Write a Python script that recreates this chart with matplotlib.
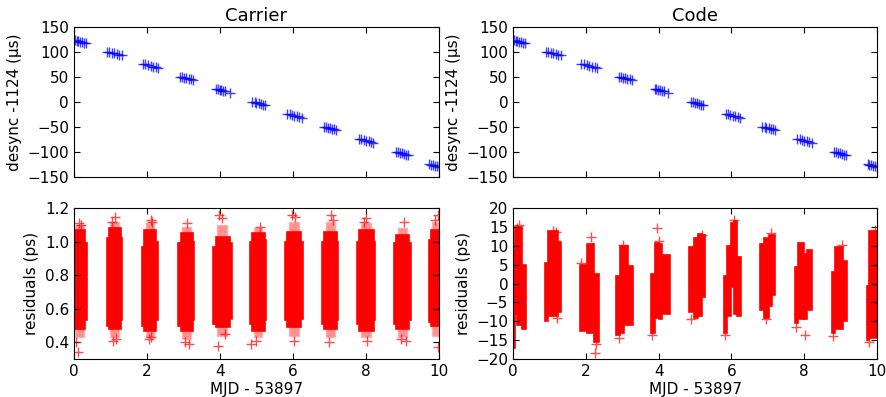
import matplotlib
matplotlib.use("Agg")
from matplotlib import pyplot as plt

# desync - 1124 (us), one group of points per day
desync_t = [0.02, 0.07, 0.12, 0.17, 0.22, 0.28, 0.33,
            0.91, 0.97, 1.04, 1.11, 1.18, 1.24, 1.31,
            1.88, 1.95, 2.02, 2.10, 2.17, 2.24, 2.31,
            2.90, 2.96, 3.02, 3.08, 3.14, 3.20, 3.27,
            3.89, 3.94, 3.99, 4.04, 4.09, 4.14, 4.27,
            4.89, 4.95, 5.00, 5.06, 5.12, 5.17, 5.23,
            5.84, 5.91, 5.97, 6.04, 6.11, 6.17, 6.24,
            6.85, 6.91, 6.96, 7.02, 7.08, 7.13, 7.19,
            7.81, 7.87, 7.94, 8.00, 8.07, 8.13, 8.20,
            8.81, 8.87, 8.92, 8.98, 9.04, 9.09, 9.15,
            9.74, 9.79, 9.84, 9.89, 9.94, 9.99]
desync_y = [123, 122, 121, 120, 119, 118, 117,
            100, 99, 98, 97, 95, 94, 93,
            76, 75, 73, 72, 70, 69, 67,
            50, 49, 48, 47, 46, 45, 44,
            26, 25, 24, 23, 22, 21, 18,
            0, -1, -2, -3, -5, -6, -7,
            -24, -25, -27, -28, -29, -31, -32,
            -50, -51, -52, -53, -54, -55, -56,
            -74, -75, -77, -78, -79, -81, -82,
            -99, -100, -101, -102, -104, -105, -106,
            -124, -125, -126, -127, -128, -129]

# carrier residuals (ps): dense blocks read as (start, end, low, high)
car_t0 = [0.00, 0.30, 0.90, 0.96, 1.28, 1.85, 1.92, 2.25, 2.86, 2.92, 3.25,
          3.82, 3.88, 4.27, 4.82, 4.88, 5.22, 5.78, 5.84, 6.23, 6.79, 6.85, 7.20,
          7.76, 7.82, 8.21, 8.77, 8.83, 9.18, 9.73, 9.78]
car_t1 = [0.30, 0.36, 0.96, 1.28, 1.32, 1.92, 2.25, 2.29, 2.92, 3.25, 3.30,
          3.88, 4.27, 4.32, 4.88, 5.22, 5.26, 5.84, 6.23, 6.27, 6.85, 7.20, 7.24,
          7.82, 8.21, 8.25, 8.83, 9.18, 9.22, 9.78, 10.0]
car_lo = [0.48, 0.53, 0.50, 0.48, 0.53, 0.50, 0.47, 0.53, 0.50, 0.47, 0.53,
          0.51, 0.49, 0.54, 0.51, 0.47, 0.53, 0.53, 0.49, 0.54, 0.51, 0.48, 0.53,
          0.51, 0.47, 0.53, 0.51, 0.48, 0.53, 0.52, 0.50]
car_hi = [1.07, 0.99, 1.02, 1.08, 1.02, 0.97, 1.07, 1.00, 0.99, 1.05, 1.00,
          0.97, 1.03, 0.99, 1.00, 1.05, 1.01, 1.00, 1.06, 1.00, 1.00, 1.06, 1.00,
          1.00, 1.07, 1.00, 0.99, 1.04, 0.99, 1.01, 1.07]
# sparser outer spread of the carrier blocks
carf_t0 = [0.03, 1.00, 1.97, 2.97, 3.92, 4.92, 5.88, 6.90, 7.87, 8.88, 9.82]
carf_t1 = [0.28, 1.22, 2.20, 3.20, 4.20, 5.16, 6.16, 7.14, 8.14, 9.12, 10.0]
carf_lo = [0.43, 0.43, 0.43, 0.42, 0.44, 0.43, 0.44, 0.43, 0.43, 0.43, 0.44]
carf_hi = [1.10, 1.12, 1.11, 1.09, 1.10, 1.08, 1.12, 1.12, 1.11, 1.08, 1.12]
car_out_t = [0.10, 0.05, 0.15, 0.20, 1.12, 1.05, 1.15, 1.08, 2.10, 2.15, 2.05, 2.12,
             3.10, 3.05, 3.15, 3.98, 3.95, 4.15, 4.05, 4.85, 5.10, 5.00, 5.98, 6.05,
             6.02, 7.05, 7.00, 7.10, 8.00, 8.02, 7.95, 9.05, 9.10, 8.95, 9.98, 9.97, 9.90]
car_out_y = [0.34, 0.40, 1.11, 1.10, 1.15, 1.12, 0.42, 0.41, 1.13, 1.12, 0.42, 0.43,
             1.11, 0.40, 0.39, 1.16, 0.38, 0.45, 1.14, 0.39, 1.09, 0.41, 1.16, 1.15,
             0.41, 1.16, 0.40, 1.13, 1.14, 0.41, 1.12, 1.12, 0.41, 0.42, 1.16, 0.37, 1.13]

# code residuals (ps): dense blocks read as (start, end, low, high)
code_t0 = [0.00, 0.06, 0.10, 0.24,
           0.88, 0.97, 1.24,
           1.85, 2.03, 2.20, 2.23,
           2.84, 2.94, 3.05, 3.17,
           3.80, 3.89, 4.00, 4.10,
           4.83, 4.96, 5.08, 5.18,
           5.79, 5.88, 6.00, 6.06, 6.16,
           6.79, 6.90, 7.04, 7.12,
           7.75, 7.84, 8.00, 8.07,
           8.77, 8.85, 9.07,
           9.72, 9.79]
code_t1 = [0.06, 0.10, 0.24, 0.36,
           0.97, 1.24, 1.31,
           2.03, 2.20, 2.23, 2.35,
           2.94, 3.05, 3.17, 3.29,
           3.89, 4.00, 4.10, 4.30,
           4.96, 5.08, 5.18, 5.26,
           5.88, 6.00, 6.06, 6.16, 6.27,
           6.90, 7.04, 7.12, 7.20,
           7.84, 8.00, 8.07, 8.20,
           8.85, 9.07, 9.18,
           9.79, 10.0]
code_lo = [-17, -8, -11, -12,
           -10, -8.5, -7.5,
           -12.5, -13, -6, -15.5,
           -13.5, -13, -11, -11,
           -13, -9, -9.5, -8,
           -7.5, -9, -8.5, -3.5,
           -13, -8.5, -1, -8, -8.5,
           -7, -9, -6, -3,
           -10.5, -9.5, -9.5, -7,
           -13, -12, -10,
           -15, -14.5]
code_hi = [9, 15, 15, 5,
           5.5, 14, 11,
           5, 10.5, 10.5, 2.5,
           2, 10, 10, 4.8,
           2.5, 10.8, 10.5, 7.5,
           9.8, 12, 13.3, 13,
           2, 10, 16, 16.5, 7,
           10.5, 12, 13, 13,
           4.5, 10.8, 8, 9,
           3, 9.8, 6,
           -0.5, 14]
code_out_t = [0.15, 0.12, 1.10, 1.18, 1.20, 2.14, 2.25, 2.27, 1.87, 3.02, 2.92,
              3.95, 3.82, 4.00, 4.90, 5.20, 6.08, 5.82, 7.10, 6.95, 8.02, 7.78,
              9.05, 8.80, 9.95, 9.78]
code_out_y = [15.5, 14.8, 14.0, 13.8, -9.0, 12.3, -18.5, -16.0, 5.5, 10.3, -14.5,
              14.7, -13.5, 11.2, -9.5, 13.0, 17.0, -13.5, 13.5, -9.5, -13.5, -11.5,
              10.3, -13.8, 14.3, -15.5]

fig = plt.figure(figsize=(8.87, 3.97), dpi=100)
ax1 = fig.add_axes([0.0834, 0.554, 0.4115, 0.3786])
ax2 = fig.add_axes([0.5784, 0.554, 0.4104, 0.3786])
ax3 = fig.add_axes([0.0834, 0.0957, 0.4115, 0.3796])
ax4 = fig.add_axes([0.5784, 0.0957, 0.4104, 0.3796])

for ax in [ax1, ax2]:
    ax.plot(desync_t, desync_y, "b+", markersize=7, mew=1.0, alpha=0.75)
    ax.set_ylim(-150, 150)
    ax.set_yticks(range(-150, 151, 50))
    ax.set_ylabel("desync -1124 (µs)", fontsize=11)
    ax.tick_params(labelbottom=False)
ax1.set_title("Carrier", fontsize=13, pad=4)
ax2.set_title("Code", fontsize=13, pad=4)

w = [b - a for a, b in zip(carf_t0, carf_t1)]
h = [b - a for a, b in zip(carf_lo, carf_hi)]
ax3.bar(carf_t0, h, w, bottom=carf_lo, align="edge", color="#ff9090",
        edgecolor="#ffb0b0", linewidth=1.0)
w = [b - a for a, b in zip(car_t0, car_t1)]
h = [b - a for a, b in zip(car_lo, car_hi)]
ax3.bar(car_t0, h, w, bottom=car_lo, align="edge", color="red",
        edgecolor="red", linewidth=1.2)
ax3.plot(car_out_t, car_out_y, "r+", markersize=7, alpha=0.7)
ax3.set_ylim(0.3, 1.2)
ax3.set_yticks([0.4, 0.6, 0.8, 1.0, 1.2])

w = [b - a for a, b in zip(code_t0, code_t1)]
h = [b - a for a, b in zip(code_lo, code_hi)]
ax4.bar(code_t0, h, w, bottom=code_lo, align="edge", color="red",
        edgecolor="red", linewidth=1.2)
ax4.plot(code_out_t, code_out_y, "r+", markersize=7, alpha=0.7)
ax4.set_ylim(-20, 20)
ax4.set_yticks(range(-20, 21, 5))

for ax in [ax3, ax4]:
    ax.set_ylabel("residuals (ps)", fontsize=11)
    ax.set_xlabel("MJD - 53897", fontsize=11, labelpad=2)

for ax in [ax1, ax2, ax3, ax4]:
    ax.set_xlim(0, 10)
    ax.set_xticks(range(0, 11, 2))
    ax.tick_params(direction="in", top=True, right=True, length=4, labelsize=11)

fig.savefig("out.png", dpi=100)
